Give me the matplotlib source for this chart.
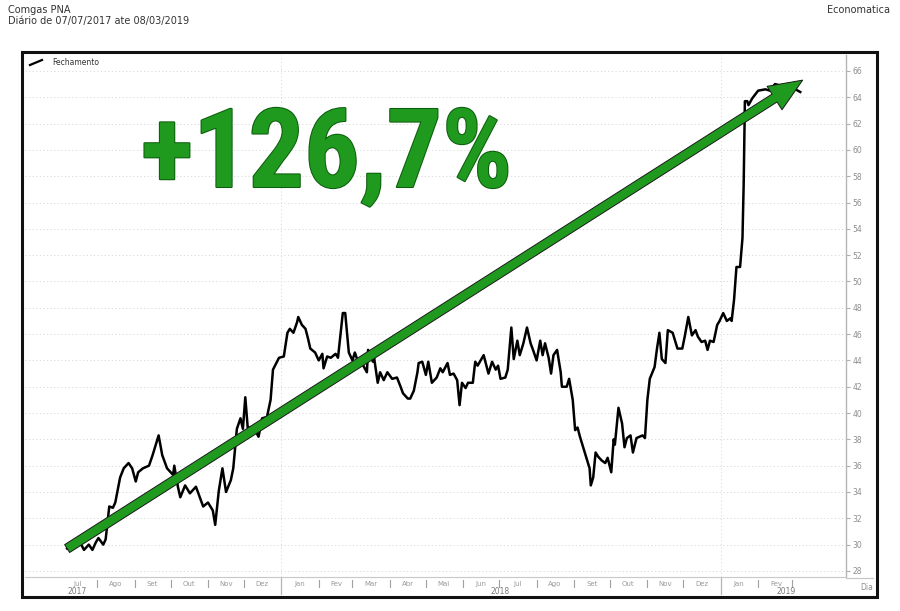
import numpy as np
import pandas as pd
import matplotlib
matplotlib.use('Agg')
import matplotlib.pyplot as plt
import matplotlib.patheffects as pe
from matplotlib import font_manager
from matplotlib.lines import Line2D
from matplotlib.patches import Rectangle

# fechamento diario
datas = ['2017-07-07', '2017-07-12', '2017-07-17', '2017-07-21', '2017-07-25', '2017-07-28', '2017-07-31',
         '2017-08-02', '2017-08-06', '2017-08-08', '2017-08-11', '2017-08-14', '2017-08-16', '2017-08-20',
         '2017-08-23', '2017-08-27', '2017-08-30', '2017-09-02', '2017-09-04', '2017-09-08', '2017-09-13',
         '2017-09-16', '2017-09-18', '2017-09-21', '2017-09-24', '2017-09-28', '2017-10-03', '2017-10-04',
         '2017-10-07', '2017-10-09', '2017-10-13', '2017-10-17', '2017-10-22', '2017-10-26', '2017-10-28',
         '2017-11-01', '2017-11-05', '2017-11-07', '2017-11-10', '2017-11-13', '2017-11-16', '2017-11-20',
         '2017-11-22', '2017-11-25', '2017-11-28', '2017-11-30', '2017-12-02', '2017-12-04', '2017-12-09',
         '2017-12-13', '2017-12-16', '2017-12-20', '2017-12-23', '2017-12-25', '2017-12-30',
         '2018-01-03', '2018-01-06', '2018-01-08', '2018-01-11', '2018-01-14', '2018-01-15', '2018-01-18',
         '2018-01-21', '2018-01-23', '2018-01-25', '2018-01-29', '2018-02-01', '2018-02-04', '2018-02-05',
         '2018-02-08', '2018-02-11', '2018-02-15', '2018-02-17', '2018-02-21', '2018-02-23', '2018-02-26',
         '2018-03-01', '2018-03-03', '2018-03-06', '2018-03-10', '2018-03-13', '2018-03-14', '2018-03-18',
         '2018-03-19', '2018-03-22', '2018-03-24', '2018-03-27', '2018-03-30', '2018-04-03', '2018-04-07',
         '2018-04-10', '2018-04-12', '2018-04-16', '2018-04-18', '2018-04-21', '2018-04-24', '2018-04-25',
         '2018-04-28', '2018-05-01', '2018-05-03', '2018-05-06', '2018-05-10', '2018-05-13', '2018-05-15',
         '2018-05-19', '2018-05-21', '2018-05-24', '2018-05-27', '2018-05-29', '2018-05-31', '2018-06-03',
         '2018-06-05', '2018-06-09', '2018-06-11', '2018-06-13', '2018-06-18', '2018-06-22', '2018-06-25',
         '2018-06-28', '2018-06-30', '2018-07-02', '2018-07-06', '2018-07-08', '2018-07-11', '2018-07-13',
         '2018-07-16', '2018-07-18', '2018-07-21', '2018-07-24', '2018-07-27', '2018-07-29', '2018-08-01',
         '2018-08-04', '2018-08-06', '2018-08-08', '2018-08-11', '2018-08-13', '2018-08-15', '2018-08-18',
         '2018-08-21', '2018-08-22', '2018-08-26', '2018-08-28', '2018-08-31', '2018-09-02', '2018-09-04',
         '2018-09-06', '2018-09-09', '2018-09-12', '2018-09-14', '2018-09-15', '2018-09-17', '2018-09-19',
         '2018-09-21', '2018-09-24', '2018-09-27', '2018-09-29', '2018-10-02', '2018-10-04', '2018-10-05',
         '2018-10-08', '2018-10-11', '2018-10-13', '2018-10-15', '2018-10-18', '2018-10-20', '2018-10-23',
         '2018-10-28', '2018-10-30', '2018-11-01', '2018-11-03', '2018-11-07', '2018-11-09', '2018-11-11',
         '2018-11-13', '2018-11-16', '2018-11-18', '2018-11-22', '2018-11-26', '2018-11-30', '2018-12-02',
         '2018-12-05', '2018-12-08', '2018-12-11', '2018-12-13', '2018-12-16', '2018-12-19', '2018-12-21',
         '2018-12-23', '2018-12-26', '2018-12-29', '2018-12-31', '2019-01-03', '2019-01-06', '2019-01-09',
         '2019-01-10', '2019-01-12', '2019-01-14', '2019-01-17', '2019-01-19', '2019-01-20', '2019-01-21',
         '2019-01-23', '2019-01-24', '2019-01-27', '2019-02-01', '2019-02-07', '2019-02-11', '2019-02-15',
         '2019-02-19', '2019-02-23', '2019-02-27', '2019-03-04', '2019-03-08']
fechamento = [29.7, 30.1, 30.3, 29.6, 30.0, 29.6, 30.2,
              30.5, 30.0, 30.4, 32.9, 32.8, 33.2, 35.1,
              35.8, 36.2, 35.8, 34.8, 35.5, 35.8, 36.0,
              36.8, 37.4, 38.3, 36.8, 35.8, 35.3, 36.0,
              34.4, 33.6, 34.5, 33.9, 34.4, 33.4, 32.9,
              33.2, 32.6, 31.5, 34.1, 35.8, 34.0, 34.9,
              35.8, 38.8, 39.6, 38.8, 41.2, 38.9, 38.9,
              38.2, 39.6, 39.7, 41.0, 43.3, 44.2,
              44.3, 46.1, 46.4, 46.1, 46.9, 47.3, 46.7,
              46.4, 45.7, 44.9, 44.6, 44.0, 44.5, 43.4,
              44.3, 44.2, 44.5, 44.2, 47.6, 47.6, 44.6,
              44.0, 44.6, 43.8, 43.6, 43.1, 44.8, 43.9,
              44.2, 42.3, 43.1, 42.5, 43.1, 42.6, 42.7,
              42.0, 41.5, 41.1, 41.1, 41.7, 43.1, 43.8,
              43.9, 42.9, 43.9, 42.3, 42.7, 43.4, 43.1,
              43.8, 42.9, 43.0, 42.5, 40.6, 42.3, 41.9,
              42.3, 42.3, 43.9, 43.6, 44.4, 43.0, 43.9,
              43.3, 43.6, 42.6, 42.7, 43.3, 46.5, 44.1,
              45.5, 44.4, 45.3, 46.5, 45.3, 44.8, 44.0,
              45.5, 44.4, 45.3, 44.2, 43.0, 44.4, 44.8,
              43.1, 42.0, 42.0, 42.6, 41.0, 38.7, 38.9,
              38.2, 37.3, 36.4, 35.8, 34.5, 35.1, 37.0,
              36.7, 36.4, 36.2, 36.6, 35.5, 38.0, 37.6,
              40.4, 39.2, 37.4, 38.1, 38.3, 37.0, 38.1,
              38.3, 38.1, 41.0, 42.6, 43.5, 44.9, 46.1,
              44.1, 43.8, 46.3, 46.1, 44.9, 44.9, 45.8,
              47.3, 45.9, 46.3, 45.8, 45.4, 45.5, 44.8,
              45.5, 45.4, 46.7, 47.0, 47.6, 47.0, 47.2,
              47.0, 48.6, 51.1, 51.1, 53.3, 57.4, 63.7,
              63.7, 63.4, 63.9, 64.5, 64.6, 64.5, 65.0,
              64.9, 64.8, 65.0, 64.6, 64.4]

meses = ['Jul', 'Ago', 'Set', 'Out', 'Nov', 'Dez', 'Jan', 'Fev', 'Mar', 'Abr', 'Mai', 'Jun',
         'Jul', 'Ago', 'Set', 'Out', 'Nov', 'Dez', 'Jan', 'Fev']
anos = ['2017', '2018', '2019']
anos_pos = ['2017-07-15', '2018-07-02', '2019-02-24']
y_ticks = list(range(28, 67, 2))

seta_inicio = ('2017-07-07', 29.7)
seta_fim = ('2019-03-10', 65.3)
destaque = '+126,7%'

datas = pd.to_datetime(datas)

W, H = 900, 611
fig = plt.figure(figsize=(W / 100, H / 100), dpi=100)
fig.patch.set_facecolor('white')


def fx(px):
    return px / W


def fy(py):
    return 1 - py / H


ax = fig.add_axes([fx(25), fy(577), fx(846) - fx(25), fy(55) - fy(577)])
ax.set_xlim(pd.Timestamp('2017-06-02'), pd.Timestamp('2019-04-15'))
ax.set_ylim(27.54, 67.21)

cinza = '#9a9a9a'
for s in ['top', 'left']:
    ax.spines[s].set_visible(False)
ax.spines['right'].set_color('#b5b5b5')
ax.spines['bottom'].set_color('#c8c8c8')
ax.spines['right'].set_linewidth(1)
ax.yaxis.tick_right()
ax.set_yticks(y_ticks)
ax.tick_params(axis='y', colors='#b0b0b0', labelcolor='#8c8c8c', labelsize=5.5, length=3, width=0.8, pad=1.5)
ax.set_xticks([])

# grade pontilhada
for v in y_ticks:
    ax.axhline(v, color='#dadada', lw=0.7, ls=(0, (1.2, 2.5)), zorder=0)
for d in ['2018-01-01', '2019-01-01']:
    ax.axvline(pd.Timestamp(d), color='#dadada', lw=0.7, ls=(0, (1.2, 2.5)), zorder=0)

ax.plot(datas, fechamento, color='black', lw=1.8, zorder=3)

# eixo de meses
trans = ax.get_xaxis_transform()
inicio_mes = pd.Timestamp('2017-07-01')
for i, m in enumerate(meses):
    centro = inicio_mes + pd.DateOffset(months=i) + pd.Timedelta(days=15)
    ax.text(centro, -0.0125, m, transform=trans, ha='center', va='center', fontsize=5, color=cinza, clip_on=False)
for i in range(1, len(meses) + 1):
    d = inicio_mes + pd.DateOffset(months=i)
    if d.month == 1:
        ax.plot([d, d], [0, -0.032], transform=trans, color='#b5b5b5', lw=0.9, clip_on=False)
    else:
        ax.plot([d, d], [-0.006, -0.019], transform=trans, color='#a0a0a0', lw=0.8, clip_on=False)
for a, p in zip(anos, anos_pos):
    ax.text(pd.Timestamp(p), -0.027, a, transform=trans, ha='center', va='center', fontsize=5.5, color='#7a7a7a', clip_on=False)

fig.add_artist(Line2D([fx(846), fx(873)], [fy(577.5), fy(577.5)], color='#c8c8c8', lw=0.9))
fig.text(fx(867), fy(587), 'Dia', fontsize=5.5, color='#8c8c8c', ha='center', va='center')

# moldura
fig.add_artist(Rectangle((fx(22), fy(597)), fx(877) - fx(22), fy(52) - fy(597), fill=False,
                         edgecolor='#111111', lw=2.2))

# legenda
fig.add_artist(Line2D([fx(30), fx(42)], [fy(65), fy(60)], color='black', lw=1.6))
fig.text(fx(52), fy(62.5), 'Fechamento', fontsize=5.5, color='#333333', ha='left', va='center')

# titulos
fig.text(fx(8), fy(10), 'Comgas PNA', fontsize=7, color='#333333', ha='left', va='center')
fig.text(fx(8), fy(21), 'Diário de 07/07/2017 ate 08/03/2019', fontsize=7, color='#333333', ha='left', va='center')
fig.text(fx(890), fy(10), 'Economatica', fontsize=7, color='#333333', ha='right', va='center')

# seta verde
ax.annotate('', xy=(pd.Timestamp(seta_fim[0]), seta_fim[1]),
            xytext=(pd.Timestamp(seta_inicio[0]), seta_inicio[1]),
            arrowprops=dict(arrowstyle='simple,head_length=1.5,head_width=1.25,tail_width=0.42',
                            mutation_scale=16, facecolor='#1f9a1f', edgecolor='#1a1a1a', lw=0.7,
                            shrinkA=0, shrinkB=0),
            zorder=5)

# texto grande
nomes = {f.name for f in font_manager.fontManager.ttflist}
fonte, tamanho = 'DejaVu Sans', 58
for nome, tam in [('Roboto Condensed', 79), ('Liberation Sans Narrow', 78)]:
    if nome in nomes:
        fonte, tamanho = nome, tam
        break
fig.text(fx(141), fy(187), destaque, fontsize=tamanho, fontfamily=fonte, fontweight='bold',
         color='#1f9a1f', ha='left', va='baseline', zorder=6,
         path_effects=[pe.withStroke(linewidth=1.5, foreground='#0d5e0d')])

fig.savefig('out.png', dpi=100)
